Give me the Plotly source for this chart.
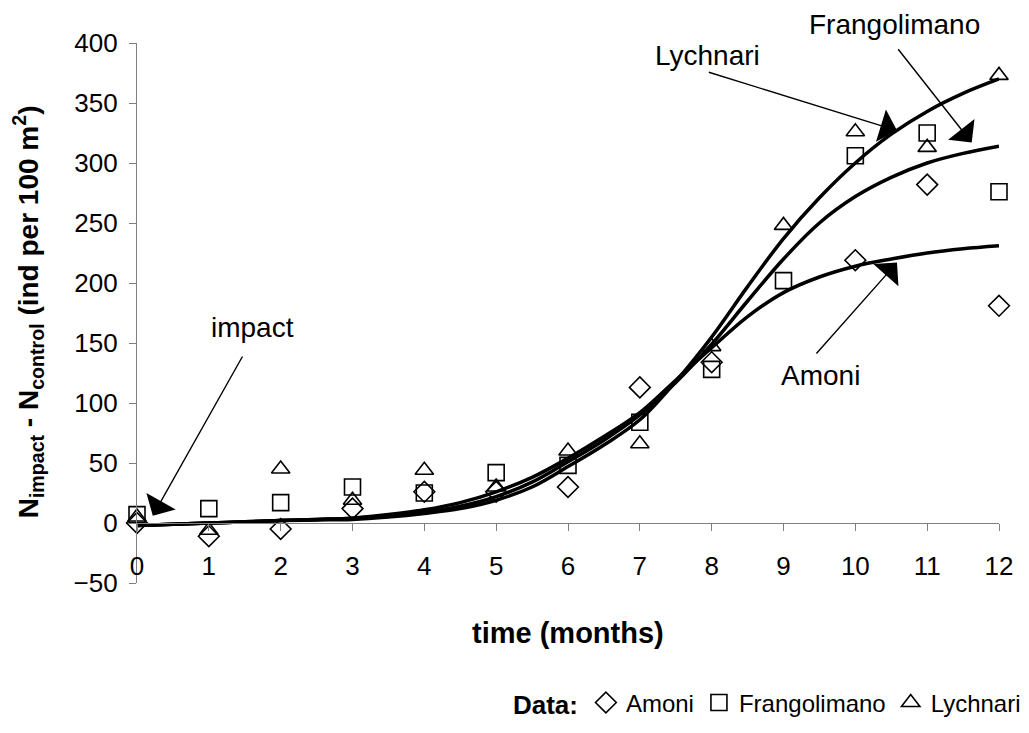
import plotly.graph_objects as go

# ---- data ----
months = list(range(13))
amoni_obs = [0, -11, -5, 12, 26, 26, 30, 113, 134, None, 219, 282, 181]
frango_obs = [7, 12, 17, 30, 25, 42, 48, 84, 128, 202, 306, 325, 276]
lych_obs = [5, -6, 45, 19, 44, 30, 60, 66, 147, 248, 326, 313, 373]

fit_t = [0, 0.5, 1, 1.5, 2, 2.5, 3, 3.5, 4, 4.5, 5, 5.5, 6, 6.5, 7, 7.5, 8, 8.5, 9, 9.5, 10, 10.5, 11, 11.5, 12]
amoni_fit = [-2, -1, 0, 1, 2, 3, 4, 7, 11, 17, 26, 38, 54, 72, 92, 119, 146, 172, 192, 205, 214, 220, 225, 228.5, 231]
frango_fit = [-2, -1, 0, 1, 2, 3, 4, 6, 9, 14, 22, 34, 51, 69, 90, 117, 149, 185, 220, 250, 272, 288, 300, 308, 314]
lych_fit = [-2, -1, 0, 1, 2, 2.5, 3, 5, 8, 12, 19, 30, 47, 65, 86, 118, 155, 197, 237, 271, 300, 324, 343, 358, 370]

y_ticks = [-50, 0, 50, 100, 150, 200, 250, 300, 350, 400]

FONT = "Liberation Sans, Arial, sans-serif"
TS = 26
AS = 28

fig = go.Figure()

for fit in (amoni_fit, frango_fit, lych_fit):
    fig.add_trace(go.Scatter(x=fit_t, y=fit, mode="lines",
                             line=dict(color="black", width=3.5, shape="spline", smoothing=1.0),
                             showlegend=False, hoverinfo="skip"))

for name, obs, sym in (("Amoni", amoni_obs, "diamond-open"),
                       ("Frangolimano", frango_obs, "square-open"),
                       ("Lychnari", lych_obs, "triangle-up-open")):
    fig.add_trace(go.Scatter(x=months, y=obs, mode="markers", name=name,
                             marker=dict(symbol=sym, size=16, color="black",
                                         line=dict(color="black", width=1.6)),
                             cliponaxis=False))

def px(m):
    return m / 12.0

def py(v):
    return (v + 50) / 450.0

texts = [
    ("impact", 1.61, 163),
    ("Lychnari", 7.94, 390),
    ("Frangolimano", 10.55, 415),
    ("Amoni", 9.52, 123),
]
for t, x, y in texts:
    fig.add_annotation(x=px(x), y=py(y), xref="paper", yref="paper", text=t, showarrow=False,
                       xanchor="center", yanchor="middle",
                       font=dict(family=FONT, size=AS, color="black"))

# arrows (tip, tail)
arrows = [
    ((0.22, 6), (1.48, 140)),
    ((10.58, 327), (7.94, 376)),
    ((11.62, 317), (10.58, 396)),
    ((10.58, 217), (9.44, 140)),
]
for (x, y), (ax, ay) in arrows:
    fig.add_annotation(x=x, y=y, ax=ax, ay=ay, xref="x", yref="y", axref="x", ayref="y",
                       text="", showarrow=True, arrowhead=1, arrowsize=4,
                       arrowwidth=1.4, arrowcolor="black")

fig.add_annotation(x=0.5, y=-0.0926, xref="paper", yref="paper", text="<b>time (months)</b>",
                   xanchor="center", yanchor="middle",
                   showarrow=False, font=dict(family=FONT, size=29, color="black"))
fig.add_annotation(x=-0.126, y=0.502, xref="paper", yref="paper", textangle=-90,
                   xanchor="center", yanchor="middle",
                   text="<b>N<sub>impact</sub> - N<sub>control</sub> (ind per 100 m<sup>2</sup>)</b>",
                   showarrow=False, font=dict(family=FONT, size=28, color="black"))

fig.update_layout(
    width=1029, height=733,
    margin=dict(l=129, r=37, t=35, b=158),
    paper_bgcolor="white", plot_bgcolor="white",
    font=dict(family=FONT, size=TS, color="black"),
    xaxis=dict(range=[0, 12], tickvals=months, anchor="free", position=50 / 450,
               showline=True, linecolor="#808080", linewidth=1.3,
               ticks="outside", ticklen=7, tickcolor="#808080",
               showgrid=False, zeroline=False, ticklabelstandoff=13,
               tickfont=dict(family=FONT, size=TS, color="black")),
    yaxis=dict(range=[-50, 400], tickvals=y_ticks,
               showline=True, linecolor="#808080", linewidth=1.3,
               ticks="outside", ticklen=7, tickcolor="#808080",
               showgrid=False, zeroline=False, ticklabelstandoff=6,
               tickfont=dict(family=FONT, size=TS, color="black")),
    legend=dict(orientation="h", x=1.03, xanchor="right", y=-0.222, yanchor="middle",
                title=dict(text="<b>Data:</b>", font=dict(family=FONT, size=26)),
                font=dict(family=FONT, size=24), itemwidth=30,
                bgcolor="rgba(0,0,0,0)"),
)

fig.write_html("out.html")
